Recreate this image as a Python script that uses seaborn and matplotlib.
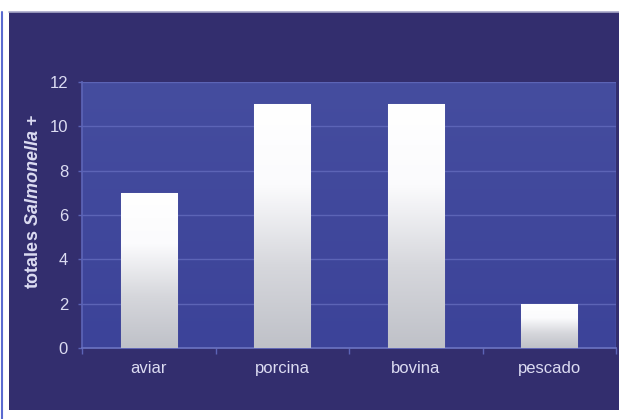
import matplotlib
matplotlib.use("Agg")
import matplotlib.pyplot as plt
import numpy as np
import pandas as pd
import seaborn as sns
from matplotlib.patches import Rectangle
from matplotlib.lines import Line2D
from matplotlib.colors import LinearSegmentedColormap

categories = ["aviar", "porcina", "bovina", "pescado"]
values = [7, 11, 11, 2]
yticks = [0, 2, 4, 6, 8, 10, 12]

sns.set_theme(style="white")
plt.rcParams["font.family"] = ["Liberation Sans", "DejaVu Sans"]
plt.rcParams["mathtext.fontset"] = "custom"
plt.rcParams["mathtext.bfit"] = "Liberation Sans:italic:bold"
plt.rcParams["mathtext.it"] = "Liberation Sans:italic"
plt.rcParams["mathtext.bf"] = "Liberation Sans:bold"

W, H = 619, 419
fig = plt.figure(figsize=(W / 100, H / 100), dpi=100, facecolor="white")

navy = "#332e6e"
txt = "#dcdcf2"
grid = "#5c64b6"

# background panel
fig.patches.append(Rectangle((9 / W, 1 - 410 / H), (W - 9) / W, (410 - 12) / H,
                             transform=fig.transFigure, facecolor=navy, edgecolor="none", zorder=-2))
fig.lines.append(Line2D([9 / W, 1], [1 - 12.5 / H, 1 - 12.5 / H], transform=fig.transFigure,
                        color="#a8a8c8", lw=1.2, zorder=-1))
fig.lines.append(Line2D([1.5 / W, 1.5 / W], [0, 1 - 12 / H], transform=fig.transFigure,
                        color="#5a6ad0", lw=1.5, zorder=-1))

left, right, top, bottom = 82, 616, 82, 348
ax = fig.add_axes([left / W, 1 - bottom / H, (right - left) / W, (bottom - top) / H])
ax.set_zorder(2)
ax.set_facecolor("none")

df = pd.DataFrame({"cat": categories, "val": values})
sns.barplot(data=df, x="cat", y="val", ax=ax, width=0.42, color="white",
            edgecolor="#9a9cb4", linewidth=0.8, zorder=3)

ax.set_ylim(0, 12)
ax.set_xlim(-0.5, len(categories) - 0.5)

# plot area gradient
bg_cmap = LinearSegmentedColormap.from_list("bg", ["#3c4399", "#454d9f"])
ax.imshow(np.linspace(0, 1, 256).reshape(-1, 1), cmap=bg_cmap, origin="lower",
          aspect="auto", extent=[-0.5, len(categories) - 0.5, 0, 12], zorder=0)

# bar gradient
bar_cmap = LinearSegmentedColormap.from_list("bar", ["#bfc1c8", "#d6d7dc", "#fbfbfd", "#ffffff"])
for p in ax.patches:
    x0, y0 = p.get_x(), p.get_y()
    w, h = p.get_width(), p.get_height()
    im = ax.imshow(np.linspace(0, 1, 256).reshape(-1, 1), cmap=bar_cmap, origin="lower",
                   aspect="auto", extent=[x0, x0 + w, y0, y0 + h], zorder=3.5)
    im.set_clip_path(p)
ax.set_xlim(-0.5, len(categories) - 0.5)
ax.set_ylim(0, 12)

for yv in yticks[1:]:
    ax.axhline(yv, color=grid, lw=1.0, zorder=1)
ax.axvline(len(categories) - 0.5, color=grid, lw=1.0, zorder=1)

ax.set_yticks(yticks)
ax.set_yticklabels([str(v) for v in yticks])
ax.set_xticks(range(len(categories)))
ax.set_xticklabels(categories)
ax.set_xticks(np.arange(-0.5, len(categories) - 0.4, 1.0), minor=True)

ax.tick_params(axis="y", which="major", length=3, width=1, color=grid,
               labelcolor=txt, labelsize=12, pad=7, left=True)
ax.tick_params(axis="x", which="major", length=0, labelcolor=txt, labelsize=12, pad=9.5)
ax.tick_params(axis="x", which="minor", length=4, width=1, color=grid, bottom=True)

for s in ["top", "right"]:
    ax.spines[s].set_visible(False)
ax.spines["left"].set_color(grid)
ax.spines["bottom"].set_color("#6a72c0")

ax.set_xlabel("")
ax.set_ylabel("")
fig.text(34 / W, 1 - 202 / H, r"totales $\mathbfit{Salmonella}$ +", rotation=90,
         ha="center", va="center", color=txt, fontsize=13, fontweight="bold")

fig.savefig("out.png", dpi=100, facecolor="white")
